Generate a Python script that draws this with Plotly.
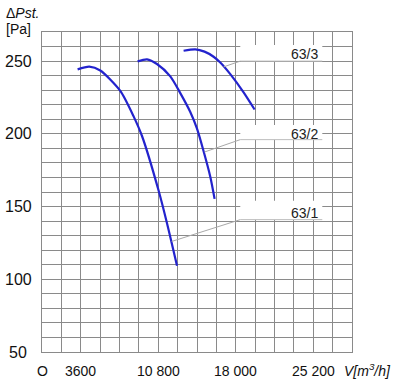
import plotly.graph_objects as go

# ---- data ----
curve_names = ["63/1", "63/2", "63/3"]
v_631 = [3307, 4394, 5416, 7274, 8510, 9290, 10832, 11613, 12542]
p_631 = [244.3, 246.2, 243.5, 229.5, 212.0, 198.5, 161.0, 138.5, 109.3]
v_632 = [8881, 9755, 10684, 11919, 12848, 13777, 14400, 15013, 15635, 16035]
p_632 = [249.8, 251.2, 248.0, 239.5, 228.0, 215.0, 203.5, 188.0, 170.5, 155.3]
v_633 = [13155, 14242, 15100, 15942, 16564, 17493, 18729, 19751]
p_633 = [257.1, 258.1, 256.5, 253.0, 249.0, 241.0, 228.5, 216.7]

x_tick_vals = [0, 3600, 10800, 18000, 25200]
x_tick_text = ["O", "3600", "10 800", "18 000", "25 200"]
y_tick_vals = [50, 100, 150, 200, 250]
y_tick_text = ["50", "100", "150", "200", "250"]

# label callouts: leader start (V, P), leader end P, box top P, text P
leader_start = [(12050, 126.0), (15100, 187.5), (16871, 246.0)]
leader_end_p = [141.0, 196.0, 250.0]
box_top_p = [154.0, 206.0, 261.0]
label_p = [145.5, 199.8, 255.0]

X_MAX, Y_MIN, Y_MAX = 28800, 50, 270
GRID_DX, GRID_DY = 1800, 10
BOX_X0, BOX_X1 = 18422, 26040
LABEL_X = 25860

BLUE = "rgb(35,35,205)"
GRID = "#8a8a8a"
FONT = "Liberation Sans, Arial, sans-serif"

fig = go.Figure()
for vv, pp in [(v_631, p_631), (v_632, p_632), (v_633, p_633)]:
    fig.add_trace(go.Scatter(x=vv, y=pp, mode="lines",
                             line=dict(color=BLUE, width=2.2, shape="spline", smoothing=0.7),
                             showlegend=False, hoverinfo="skip"))

grid_x = list(range(0, X_MAX + 1, GRID_DX))
grid_y = list(range(Y_MIN, Y_MAX + 1, GRID_DY))

shapes = []
annotations = []
for i, name in enumerate(curve_names):
    sx, sy = leader_start[i]
    shapes.append(dict(type="rect", xref="x", yref="y", x0=BOX_X0, x1=BOX_X1,
                       y0=leader_end_p[i], y1=box_top_p[i],
                       fillcolor="white", line=dict(width=0), layer="above"))
    shapes.append(dict(type="line", xref="x", yref="y", x0=sx, y0=sy,
                       x1=BOX_X0, y1=leader_end_p[i],
                       line=dict(color="#a8a8a8", width=1), layer="above"))
    shapes.append(dict(type="line", xref="x", yref="y", x0=BOX_X0, y0=leader_end_p[i],
                       x1=BOX_X1, y1=leader_end_p[i],
                       line=dict(color="#bdbdbd", width=1), layer="above"))
    annotations.append(dict(xref="x", yref="y", x=LABEL_X, y=label_p[i], text=name,
                            showarrow=False, xanchor="right", yanchor="middle",
                            font=dict(size=14, color="#222", family=FONT)))

for v, t in zip(y_tick_vals, y_tick_text):
    annotations.append(dict(xref="paper", yref="y", x=(18 - 42) / 310, y=v, text=t,
                            showarrow=False, xanchor="center", yanchor="middle",
                            font=dict(size=16, color="#111", family=FONT)))

for v, t in zip(x_tick_vals, x_tick_text):
    annotations.append(dict(xref="x", yref="paper", x=v, y=-(371 - 352) / 320, text=t,
                            showarrow=False, xanchor="center", yanchor="middle",
                            font=dict(size=14, color="#111", family=FONT)))

annotations.append(dict(xref="paper", yref="paper", x=(4 - 42) / 310, y=1 + (32 - 13) / 320,
                        text="Δ<i>Pst.</i>", showarrow=False, xanchor="left", yanchor="middle",
                        font=dict(size=14, color="#111", family=FONT)))
annotations.append(dict(xref="paper", yref="paper", x=(4 - 42) / 310, y=1 + (32 - 29) / 320,
                        text="[Pa]", showarrow=False, xanchor="left", yanchor="middle",
                        font=dict(size=14, color="#111", family=FONT)))
annotations.append(dict(xref="paper", yref="paper", x=(393 - 42) / 310, y=-(370 - 352) / 320,
                        text="<i>V[m<sup>3</sup>/h]</i>", showarrow=False, xanchor="right",
                        yanchor="middle", font=dict(size=14, color="#111", family=FONT)))

fig.update_layout(
    width=400, height=383,
    margin=dict(l=42, r=48, t=32, b=31, autoexpand=False),
    paper_bgcolor="white", plot_bgcolor="white",
    font=dict(family=FONT, size=14, color="#111"),
    shapes=shapes, annotations=annotations,
    xaxis=dict(range=[0, X_MAX], tickmode="array", tickvals=grid_x,
               showticklabels=False, automargin=False,
               showgrid=True, gridcolor=GRID, gridwidth=1, zeroline=False,
               showline=True, linecolor=GRID, linewidth=1, mirror=True, ticks=""),
    yaxis=dict(range=[Y_MIN, Y_MAX], tickmode="array", tickvals=grid_y,
               showticklabels=False, automargin=False,
               showgrid=True, gridcolor=GRID, gridwidth=1, zeroline=False,
               showline=True, linecolor=GRID, linewidth=1, mirror=True, ticks=""),
)

fig.write_html("out.html", config={"displayModeBar": False},
               post_script="document.body.style.margin='0';document.body.style.padding='0';")
